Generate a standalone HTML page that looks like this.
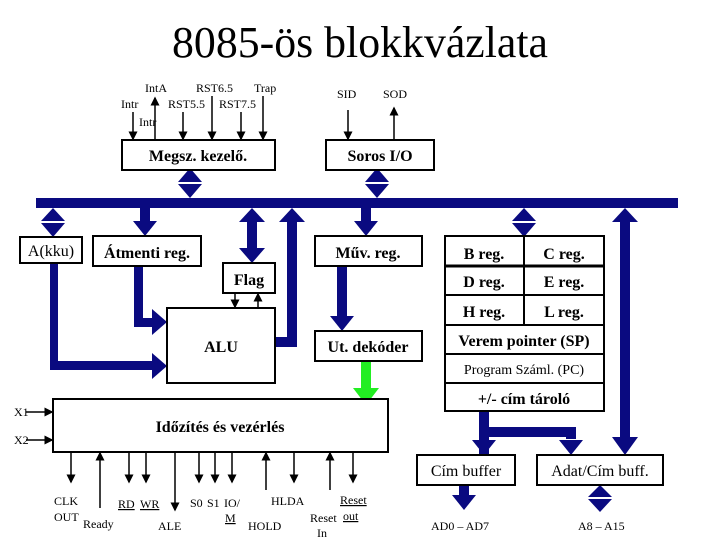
<!DOCTYPE html>
<html><head><meta charset="utf-8"><style>
html,body{margin:0;padding:0;background:#fff;}
svg{display:block;}
text{font-family:"Liberation Serif",serif;fill:#000;}
</style></head><body>
<svg width="720" height="540" viewBox="0 0 720 540" xmlns="http://www.w3.org/2000/svg">
<defs>
<marker id="ah" markerWidth="6" markerHeight="6" refX="5" refY="3" orient="auto"><path d="M0,0 L6,3 L0,6 z" fill="#000"/></marker>
</defs>
<text x="360" y="57" font-size="44" text-anchor="middle" textLength="376" lengthAdjust="spacingAndGlyphs">8085-ös blokkvázlata</text>

<g fill="#0a0a80">
<rect x="36" y="198" width="642" height="10"/>
<polygon points="190,168 202,182 178,182"/><polygon points="178,184 202,184 190,198"/>
<polygon points="377,168 389,182 365,182"/><polygon points="365,184 389,184 377,198"/>
<polygon points="53,208 65,221 41,221"/><polygon points="41,223 65,223 53,237"/>
<rect x="140" y="208" width="10" height="14"/><polygon points="133,221 157,221 145,236"/>
<polygon points="252,208 265,222 239,222"/><rect x="247" y="222" width="10" height="26"/><polygon points="239,248 265,248 252,263"/>
<polygon points="292,208 305,222 279,222"/><rect x="287" y="222" width="10" height="125"/><rect x="275" y="337" width="22" height="10"/>
<rect x="361" y="208" width="10" height="14"/><polygon points="354,221 378,221 366,236"/>
<polygon points="524,208 536,221 512,221"/><polygon points="512,223 536,223 524,237"/>
<polygon points="625,208 638,222 612,222"/><rect x="620" y="222" width="10" height="215"/><polygon points="612,437 638,437 625,455"/>
<!-- A to ALU -->
<rect x="50" y="263" width="8" height="107"/><rect x="50" y="361" width="104" height="9"/><polygon points="152,353 167,366 152,379"/>
<!-- Atmenti to ALU -->
<rect x="134" y="266" width="9" height="61"/><rect x="134" y="318" width="20" height="9"/><polygon points="152,309 167,322 152,335"/>
<rect x="337" y="266" width="10" height="52"/><polygon points="330,316 354,316 342,331"/>
<rect x="479" y="411" width="10" height="50"/>
<rect x="479" y="427" width="97" height="10"/><rect x="566" y="427" width="10" height="12"/>
<polygon points="472,440 496,440 484,455"/><polygon points="559,440 583,440 571,455"/>
<rect x="459" y="485" width="10" height="11"/><polygon points="452,495 476,495 464,510"/>
<polygon points="600,485 612,497 588,497"/><polygon points="588,499 612,499 600,512"/>
</g>
<g stroke="#fff" stroke-width="1">
<line x1="178" y1="183" x2="202" y2="183"/><line x1="365" y1="183" x2="389" y2="183"/>
<line x1="41" y1="222" x2="65" y2="222"/><line x1="512" y1="222" x2="536" y2="222"/><line x1="588" y1="498" x2="612" y2="498"/>
</g>
<rect x="361" y="361" width="10" height="29" fill="#22ee22"/><polygon points="353,388 379,388 366,405" fill="#22ee22"/>

<g fill="#fff" stroke="#000" stroke-width="2">
<rect x="122" y="140" width="153" height="30"/>
<rect x="326" y="140" width="108" height="30"/>
<rect x="20" y="237" width="62" height="26"/>
<rect x="93" y="236" width="108" height="30"/>
<rect x="223" y="263" width="52" height="30"/>
<rect x="167" y="308" width="108" height="75"/>
<rect x="315" y="236" width="107" height="30"/>
<rect x="315" y="331" width="107" height="30"/>
<rect x="445" y="236" width="159" height="175"/>
<rect x="53" y="399" width="335" height="53"/>
<rect x="417" y="455" width="98" height="30"/>
<rect x="537" y="455" width="126" height="30"/>
</g>
<g stroke="#000" stroke-width="2">
<line x1="524" y1="236" x2="524" y2="325"/>
<line x1="445" y1="266" x2="604" y2="266" stroke-width="3"/>
<line x1="445" y1="295" x2="604" y2="295"/>
<line x1="445" y1="325" x2="604" y2="325"/>
<line x1="445" y1="354" x2="604" y2="354"/>
<line x1="445" y1="383" x2="604" y2="383"/>
</g>
<g stroke="#000" stroke-width="1.5" marker-end="url(#ah)">
<line x1="133" y1="112" x2="133" y2="139"/>
<line x1="155" y1="139" x2="155" y2="98"/>
<line x1="183" y1="112" x2="183" y2="139"/>
<line x1="212" y1="96" x2="212" y2="139"/>
<line x1="241" y1="112" x2="241" y2="139"/>
<line x1="263" y1="96" x2="263" y2="139"/>
<line x1="348" y1="110" x2="348" y2="139"/>
<line x1="394" y1="139" x2="394" y2="108"/>
<line x1="235" y1="293" x2="235" y2="307"/>
<line x1="258" y1="308" x2="258" y2="294"/>
<line x1="26" y1="412" x2="52" y2="412"/>
<line x1="26" y1="440" x2="52" y2="440"/>
<line x1="71" y1="452" x2="71" y2="482"/>
<line x1="100" y1="508" x2="100" y2="453"/>
<line x1="129" y1="452" x2="129" y2="482"/>
<line x1="146" y1="452" x2="146" y2="482"/>
<line x1="175" y1="452" x2="175" y2="510"/>
<line x1="199" y1="452" x2="199" y2="482"/>
<line x1="215" y1="452" x2="215" y2="482"/>
<line x1="232" y1="452" x2="232" y2="482"/>
<line x1="266" y1="490" x2="266" y2="453"/>
<line x1="294" y1="452" x2="294" y2="482"/>
<line x1="330" y1="490" x2="330" y2="453"/>
<line x1="353" y1="452" x2="353" y2="482"/>
</g>

<g font-size="12">
<text x="145" y="92">IntA</text>
<text x="196" y="92">RST6.5</text>
<text x="254" y="92">Trap</text>
<text x="121" y="108">Intr</text>
<text x="168" y="108">RST5.5</text>
<text x="219" y="108">RST7.5</text>
<text x="139" y="126">Intr</text>
<text x="337" y="98">SID</text>
<text x="383" y="98">SOD</text>
</g>
<g font-size="16" font-weight="bold" text-anchor="middle">
<text x="198" y="161">Megsz. kezelő.</text>
<text x="380" y="161">Soros I/O</text>
<text x="147" y="258">Átmenti reg.</text>
<text x="249" y="285">Flag</text>
<text x="221" y="352">ALU</text>
<text x="368" y="258">Műv. reg.</text>
<text x="368" y="352">Ut. dekóder</text>
<text x="484" y="259">B reg.</text>
<text x="564" y="259">C reg.</text>
<text x="484" y="287">D reg.</text>
<text x="564" y="287">E reg.</text>
<text x="484" y="317">H reg.</text>
<text x="564" y="317">L reg.</text>
<text x="524" y="346">Verem pointer (SP)</text>
<text x="524" y="404">+/- cím tároló</text>
<text x="220" y="432">Időzítés és vezérlés</text>
</g>
<g font-size="16" text-anchor="middle">
<text x="51" y="256">A(kku)</text>
<text x="466" y="476">Cím buffer</text>
<text x="600" y="476">Adat/Cím buff.</text>
</g>
<text x="524" y="374" font-size="14" text-anchor="middle">Program Száml. (PC)</text>
<g font-size="12">
<text x="14" y="416">X1</text>
<text x="14" y="444">X2</text>
<text x="54" y="505">CLK</text>
<text x="54" y="521">OUT</text>
<text x="83" y="528">Ready</text>
<text x="118" y="508" text-decoration="underline">RD</text>
<text x="140" y="508" text-decoration="underline">WR</text>
<text x="158" y="530">ALE</text>
<text x="190" y="507">S0</text>
<text x="207" y="507">S1</text>
<text x="224" y="507">IO/</text>
<text x="225" y="522" text-decoration="underline">M</text>
<text x="248" y="530">HOLD</text>
<text x="271" y="505">HLDA</text>
<text x="310" y="522">Reset</text>
<text x="317" y="537">In</text>
<text x="340" y="504" text-decoration="underline">Reset</text>
<text x="343" y="520" text-decoration="underline">out</text>
<text x="431" y="530">AD0 – AD7</text>
<text x="578" y="530">A8 – A15</text>
</g>
</svg>
</body></html>
